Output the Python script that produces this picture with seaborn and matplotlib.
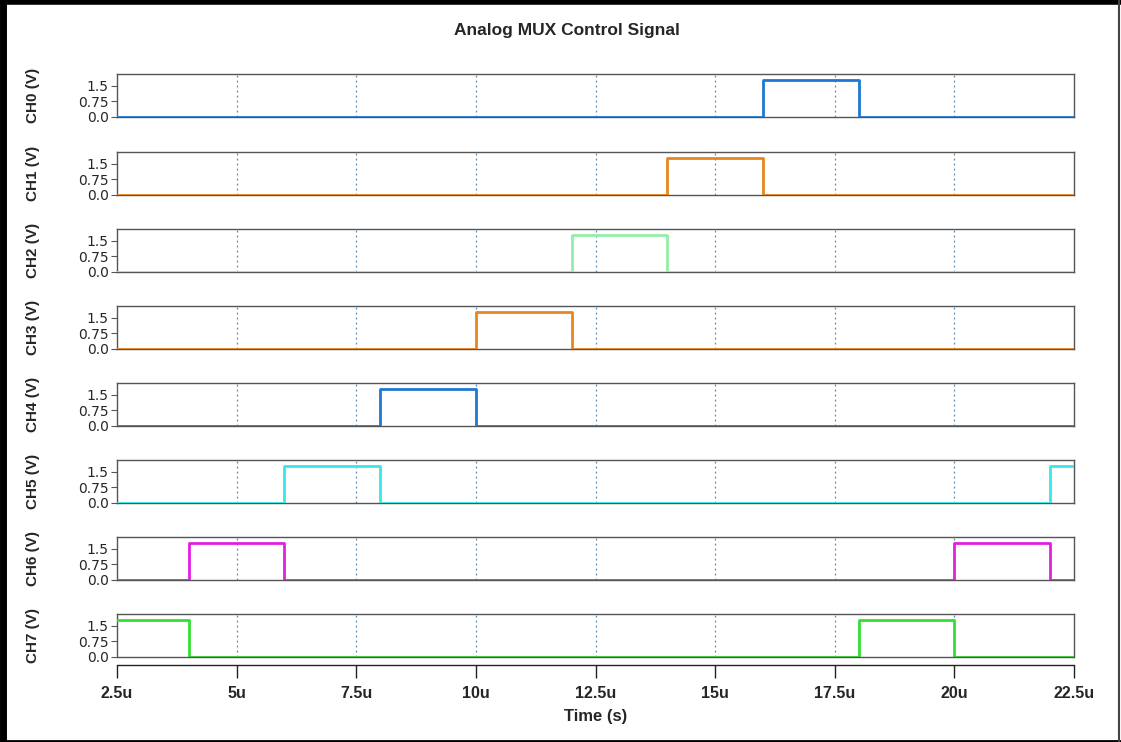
import pandas as pd
import matplotlib
matplotlib.use("Agg")
import matplotlib.pyplot as plt
import seaborn as sns
from matplotlib.lines import Line2D

# data: step edges in microseconds, level held until the next edge
time_us = [2.5, 4, 6, 8, 10, 12, 14, 16, 18, 20, 22, 22.5]
HI = 1.8
ch0 = [0, 0, 0, 0, 0, 0, 0, HI, 0, 0, 0, 0]
ch1 = [0, 0, 0, 0, 0, 0, HI, 0, 0, 0, 0, 0]
ch2 = [0, 0, 0, 0, 0, HI, 0, 0, 0, 0, 0, 0]
ch3 = [0, 0, 0, 0, HI, 0, 0, 0, 0, 0, 0, 0]
ch4 = [0, 0, 0, HI, 0, 0, 0, 0, 0, 0, 0, 0]
ch5 = [0, 0, HI, 0, 0, 0, 0, 0, 0, 0, HI, HI]
ch6 = [0, HI, 0, 0, 0, 0, 0, 0, 0, HI, 0, 0]
ch7 = [HI, 0, 0, 0, 0, 0, 0, 0, HI, 0, 0, 0]
channels = ["CH0", "CH1", "CH2", "CH3", "CH4", "CH5", "CH6", "CH7"]
colors = ["#1f78d2", "#e8861e", "#90f0a8", "#e8861e", "#1f78d2", "#38e8e8", "#e020e0", "#33e033"]
xticks = [2.5, 5, 7.5, 10, 12.5, 15, 17.5, 20, 22.5]
xtick_labels = ["2.5u", "5u", "7.5u", "10u", "12.5u", "15u", "17.5u", "20u", "22.5u"]
yticks = [0.0, 0.75, 1.5]
ytick_labels = ["0.0", "0.75", "1.5"]

df = pd.DataFrame({"t": time_us, "CH0": ch0, "CH1": ch1, "CH2": ch2, "CH3": ch3,
                   "CH4": ch4, "CH5": ch5, "CH6": ch6, "CH7": ch7})

sns.set_style("white")
plt.rcParams["font.family"] = ["Liberation Sans", "DejaVu Sans"]

W, H = 1121, 742
fig = plt.figure(figsize=(W / 100, H / 100), dpi=100)

left, right = 117, 1074
panel_h = 43
tops = [74, 152, 229, 306, 383, 460, 537, 614]
spine_col = "#555555"

axes = []
for i, (name, col) in enumerate(zip(channels, colors)):
    ax = fig.add_axes([left / W, 1 - (tops[i] + panel_h) / H, (right - left) / W, panel_h / H])
    for gx in xticks[1:-1]:
        ax.axvline(gx, color="#5a8ab0", lw=0.9, ls=(0, (1.5, 2.5)), zorder=1)
    sns.lineplot(data=df, x="t", y=name, ax=ax, color=col, lw=2.0,
                 drawstyle="steps-post", zorder=3)
    ax.set_xlim(2.5, 22.5)
    ax.set_ylim(-0.02, 2.08)
    ax.set_yticks(yticks)
    ax.set_yticklabels(ytick_labels, family="DejaVu Sans", fontsize=10)
    ax.tick_params(axis="y", direction="out", length=4, width=0.8, color=spine_col,
                   pad=2, left=True)
    ax.set_ylabel(f"{name} (V)", fontsize=11, fontweight="bold")
    ax.yaxis.set_label_coords(-0.08, 0.5)
    for s in ax.spines.values():
        s.set_color(spine_col)
        s.set_linewidth(1.0)
    ax.set_xticks(xticks)
    if i < len(channels) - 1:
        ax.tick_params(axis="x", bottom=False, labelbottom=False)
        ax.set_xlabel("")
    axes.append(ax)

# bottom time axis, offset below the last panel
axb = axes[-1]
axb.axhline(axb.get_ylim()[0], color=spine_col, lw=1.0, zorder=4, clip_on=False)
axb.spines["bottom"].set_position(("outward", 6))
axb.spines["bottom"].set_color("#222222")
axb.set_xticklabels(xtick_labels)
axb.tick_params(axis="x", direction="out", length=9, width=1.0, color="#222222",
                labelsize=11.5, pad=6, bottom=True)
for lbl in axb.get_xticklabels():
    lbl.set_fontweight("bold")
axb.set_xlabel("Time (s)", fontsize=12, fontweight="bold", labelpad=6)

fig.text(567 / W, 1 - 31 / H, "Analog MUX Control Signal", ha="center", va="center",
         fontsize=12.5, fontweight="bold")

# window frame
fig.add_artist(Line2D([2.5 / W, 2.5 / W], [0, 1], color="black", lw=5, transform=fig.transFigure))
fig.add_artist(Line2D([0, 1], [1 - 2 / H, 1 - 2 / H], color="black", lw=4, transform=fig.transFigure))
fig.add_artist(Line2D([0, 1], [1 / H, 1 / H], color="black", lw=2, transform=fig.transFigure))
fig.add_artist(Line2D([1 - 2 / W, 1 - 2 / W], [0, 1], color="#444444", lw=1.5, transform=fig.transFigure))

fig.savefig("out.png", dpi=100)
